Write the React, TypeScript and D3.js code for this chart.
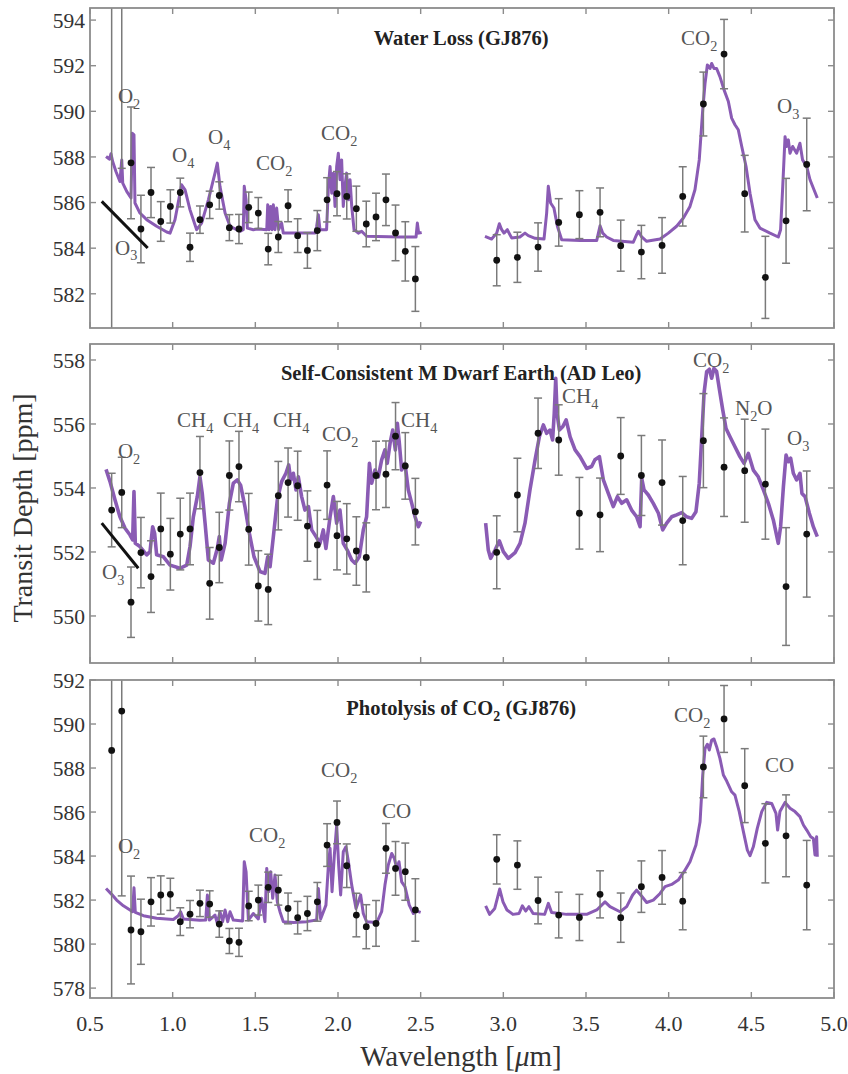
import React from "react";
import * as d3 from "d3";

// ---------- shared wavelengths of the binned data points (µm) ----------
const leftWl = [0.631, 0.692, 0.748, 0.808, 0.869, 0.928, 0.986, 1.046, 1.105, 1.165, 1.224, 1.282, 1.343, 1.401, 1.46, 1.518, 1.578, 1.639, 1.698, 1.756, 1.815, 1.875, 1.934, 1.994, 2.053, 2.111, 2.171, 2.23, 2.29, 2.348, 2.407, 2.468];
const rightWl = [2.96, 3.085, 3.21, 3.335, 3.46, 3.585, 3.71, 3.835, 3.96, 4.085, 4.21, 4.335, 4.46, 4.585, 4.71, 4.835];

// GJ876 uncertainties (shared by panels 1 and 3)
const gjLeftErr = [20, 8.4, 2.45, 1.48, 1.1, 0.87, 0.73, 0.63, 0.62, 0.6, 0.6, 0.6, 0.57, 0.64, 0.67, 0.68, 0.69, 0.68, 0.7, 0.74, 0.78, 0.88, 0.97, 0.97, 0.99, 0.99, 1.0, 1.04, 1.13, 1.22, 1.3, 1.42];
const gjRightErr = [1.12, 1.1, 1.06, 1.04, 1.05, 1.07, 1.12, 1.17, 1.22, 1.3, 1.4, 1.52, 1.68, 1.8, 1.86, 2.03];

// ---------- Panel 1: Water Loss (GJ876) ----------
const waterLeft = [598.0, 595.9, 587.74, 584.84, 586.44, 585.17, 585.83, 586.44, 584.04, 585.25, 585.9, 586.31, 584.9, 584.84, 585.79, 585.54, 583.96, 584.49, 585.86, 584.55, 583.9, 584.77, 586.12, 586.39, 586.27, 585.73, 585.06, 585.37, 586.12, 584.67, 583.86, 582.65];
const waterRight = [583.47, 583.6, 584.05, 585.13, 585.47, 585.57, 584.11, 583.83, 584.12, 586.27, 590.32, 592.51, 586.39, 582.72, 585.2, 587.67];
const waterModelA: [number, number][] = [
  [0.597, 588.02], [0.617, 587.9], [0.627, 588.14], [0.637, 587.8], [0.657, 587.36], [0.681, 586.92], [0.692, 587.87], [0.698, 586.85], [0.722, 586.49], [0.748, 586.2], [0.756, 589.04], [0.766, 588.97], [0.772, 585.98], [0.802, 585.54], [0.843, 585.25], [0.903, 584.96], [0.964, 584.71], [0.984, 584.66], [1.014, 585.25], [1.054, 586.78], [1.075, 586.56], [1.105, 585.68], [1.145, 584.81], [1.175, 585.1], [1.216, 586.12], [1.256, 587.29], [1.27, 587.73], [1.286, 586.71], [1.317, 585.54], [1.347, 584.96], [1.407, 584.74], [1.427, 584.81], [1.433, 586.71], [1.444, 586.12], [1.452, 584.88], [1.488, 584.81], [1.518, 584.84], [1.569, 584.81], [1.575, 585.9], [1.583, 584.81], [1.593, 585.83], [1.601, 584.81], [1.609, 585.9], [1.619, 584.81], [1.629, 585.76], [1.641, 584.81], [1.659, 585.1], [1.669, 584.66], [1.77, 584.66], [1.861, 584.66], [1.871, 584.96], [1.881, 585.47], [1.891, 584.81], [1.931, 584.81], [1.942, 586.71], [1.952, 587.58], [1.962, 586.41], [1.972, 587.29], [1.982, 585.83], [1.992, 587.58], [2.002, 588.16], [2.012, 587.0], [2.022, 587.87], [2.032, 585.83], [2.042, 586.71], [2.052, 587.29], [2.063, 586.12], [2.073, 587.0], [2.083, 585.83], [2.097, 584.81], [2.123, 584.66], [2.143, 584.74], [2.173, 584.52], [2.375, 584.49], [2.472, 584.49], [2.48, 585.1], [2.488, 584.66], [2.506, 584.69]
];
const waterModelB: [number, number][] = [
  [2.889, 584.52], [2.929, 584.4], [2.96, 584.66], [2.976, 585.07], [2.99, 584.81], [3.004, 584.66], [3.024, 584.81], [3.05, 584.45], [3.1, 584.49], [3.131, 584.66], [3.151, 584.55], [3.192, 584.43], [3.246, 584.4], [3.262, 585.54], [3.272, 586.71], [3.286, 585.98], [3.306, 585.76], [3.327, 584.96], [3.353, 584.37], [3.464, 584.34], [3.565, 584.34], [3.575, 584.66], [3.585, 584.98], [3.601, 584.66], [3.625, 584.49], [3.665, 584.34], [3.786, 584.26], [3.806, 584.59], [3.817, 584.74], [3.837, 584.49], [3.867, 584.3], [3.948, 584.4], [3.998, 584.66], [4.048, 584.96], [4.089, 585.32], [4.129, 585.83], [4.159, 586.56], [4.185, 587.87], [4.206, 590.06], [4.22, 591.23], [4.234, 592.03], [4.25, 591.88], [4.26, 592.1], [4.274, 591.88], [4.29, 591.88], [4.31, 591.52], [4.335, 590.94], [4.361, 590.43], [4.381, 589.7], [4.401, 589.41], [4.421, 589.19], [4.442, 588.46], [4.468, 587.58], [4.492, 586.41], [4.522, 585.25], [4.552, 584.88], [4.613, 584.66], [4.663, 584.49], [4.677, 584.81], [4.69, 586.71], [4.704, 588.89], [4.714, 588.46], [4.724, 588.75], [4.734, 588.16], [4.75, 588.46], [4.774, 588.16], [4.794, 588.6], [4.81, 587.87], [4.835, 587.58], [4.855, 587.0], [4.879, 586.56], [4.899, 586.2]
];

// ---------- Panel 2: Self-Consistent M Dwarf Earth (AD Leo) ----------
const adLeoLeft = [553.31, 553.86, 550.43, 551.98, 551.23, 552.72, 551.93, 552.56, 552.72, 554.48, 551.02, 552.14, 554.39, 554.67, 552.71, 550.94, 550.83, 553.76, 554.17, 554.07, 552.81, 552.22, 554.09, 552.51, 552.41, 552.03, 551.83, 554.39, 554.43, 555.62, 554.69, 553.26];
const adLeoLeftErr = [1.15, 1.1, 1.1, 1.1, 1.12, 1.12, 1.12, 1.12, 1.12, 1.13, 1.12, 1.1, 1.08, 1.1, 1.12, 1.1, 1.1, 1.07, 1.08, 1.08, 1.1, 1.08, 1.07, 1.07, 1.1, 1.07, 1.08, 1.07, 1.04, 1.05, 1.04, 1.04];
const adLeoRight = [551.99, 553.78, 555.71, 555.5, 553.21, 553.16, 555.0, 554.39, 554.17, 552.98, 555.48, 554.65, 554.54, 554.12, 550.92, 552.56];
const adLeoRightErr = [1.14, 1.15, 1.1, 1.1, 1.12, 1.15, 1.2, 1.25, 1.33, 1.38, 1.47, 1.54, 1.61, 1.72, 1.84, 1.97];
const adLeoModelA: [number, number][] = [
  [0.597, 554.58], [0.621, 554.2], [0.651, 553.63], [0.681, 553.1], [0.712, 552.74], [0.742, 552.53], [0.758, 552.38], [0.766, 553.89], [0.774, 552.27], [0.802, 552.17], [0.843, 551.91], [0.863, 552.01], [0.879, 552.79], [0.891, 552.58], [0.903, 551.91], [0.944, 551.85], [0.984, 551.59], [1.044, 551.49], [1.085, 551.59], [1.105, 552.17], [1.125, 553.1], [1.149, 553.73], [1.165, 554.35], [1.179, 553.83], [1.196, 552.9], [1.216, 551.75], [1.246, 551.65], [1.27, 552.11], [1.282, 552.48], [1.294, 551.75], [1.317, 552.27], [1.343, 553.52], [1.367, 554.15], [1.391, 554.25], [1.411, 554.09], [1.437, 553.42], [1.464, 552.58], [1.492, 551.85], [1.528, 551.39], [1.558, 551.33], [1.575, 551.85], [1.589, 551.54], [1.609, 552.48], [1.633, 553.63], [1.659, 554.2], [1.685, 554.46], [1.702, 554.72], [1.714, 554.25], [1.73, 554.46], [1.746, 553.94], [1.76, 554.35], [1.78, 553.73], [1.8, 553.31], [1.821, 553.42], [1.841, 552.69], [1.867, 552.48], [1.891, 552.27], [1.911, 552.69], [1.927, 552.11], [1.952, 553.1], [1.972, 553.73], [1.992, 552.9], [2.012, 553.31], [2.032, 552.27], [2.056, 552.06], [2.083, 551.75], [2.103, 551.65], [2.129, 551.85], [2.153, 552.69], [2.173, 553.1], [2.19, 554.77], [2.204, 554.15], [2.224, 554.56], [2.244, 554.35], [2.264, 554.88], [2.284, 555.19], [2.298, 554.77], [2.315, 555.4], [2.331, 555.81], [2.347, 555.19], [2.359, 556.02], [2.371, 555.4], [2.385, 554.56], [2.405, 554.77], [2.425, 553.94], [2.446, 553.52], [2.466, 553.1], [2.486, 552.79], [2.5, 552.95]
];
const adLeoModelB: [number, number][] = [
  [2.893, 552.9], [2.909, 552.06], [2.923, 551.8], [2.95, 552.06], [2.976, 552.35], [3.0, 552.01], [3.03, 551.8], [3.071, 551.98], [3.101, 552.27], [3.131, 552.9], [3.161, 553.94], [3.192, 554.88], [3.218, 555.6], [3.242, 555.97], [3.262, 555.71], [3.282, 555.81], [3.298, 555.5], [3.308, 556.33], [3.317, 557.43], [3.325, 556.33], [3.339, 555.81], [3.36, 555.92], [3.38, 556.13], [3.404, 555.6], [3.434, 555.19], [3.464, 554.98], [3.504, 554.61], [3.534, 554.67], [3.554, 554.88], [3.581, 554.98], [3.605, 554.25], [3.635, 553.83], [3.665, 553.42], [3.69, 553.73], [3.716, 553.52], [3.746, 553.63], [3.776, 553.31], [3.806, 553.1], [3.827, 552.79], [3.837, 554.3], [3.851, 553.94], [3.877, 553.78], [3.907, 553.52], [3.938, 553.21], [3.964, 552.69], [3.988, 552.9], [4.018, 553.1], [4.048, 553.16], [4.079, 553.23], [4.109, 553.1], [4.139, 553.05], [4.165, 553.26], [4.185, 554.15], [4.2, 555.6], [4.214, 556.96], [4.23, 557.64], [4.246, 557.71], [4.26, 557.43], [4.274, 557.74], [4.29, 557.64], [4.306, 557.11], [4.327, 556.44], [4.347, 555.86], [4.371, 555.6], [4.401, 555.29], [4.431, 554.98], [4.456, 554.77], [4.482, 555.08], [4.512, 554.56], [4.542, 554.35], [4.573, 553.94], [4.603, 553.52], [4.633, 553.0], [4.663, 552.27], [4.677, 552.79], [4.694, 554.04], [4.71, 555.03], [4.724, 554.82], [4.738, 554.93], [4.754, 554.46], [4.774, 554.25], [4.794, 554.46], [4.806, 553.83], [4.825, 553.73], [4.851, 553.21], [4.875, 552.79], [4.899, 552.48]
];

// ---------- Panel 3: Photolysis of CO2 (GJ876) ----------
const photoLeft = [588.8, 590.59, 580.64, 580.56, 581.92, 582.23, 582.26, 581.02, 581.36, 581.85, 581.82, 580.91, 580.14, 580.08, 581.73, 582.0, 582.58, 582.45, 581.62, 581.2, 581.39, 581.92, 584.5, 585.53, 583.56, 581.32, 580.79, 580.94, 584.35, 583.44, 583.29, 581.55];
const photoRight = [583.85, 583.59, 581.98, 581.32, 581.21, 582.26, 581.2, 582.61, 583.03, 581.95, 588.05, 590.23, 587.2, 584.58, 584.92, 582.68];
const photoModelA: [number, number][] = [
  [0.597, 582.53], [0.631, 582.26], [0.661, 582.0], [0.702, 581.74], [0.742, 581.55], [0.758, 581.47], [0.766, 582.56], [0.774, 581.44], [0.823, 581.29], [0.903, 581.17], [1.004, 581.12], [1.034, 581.29], [1.048, 581.47], [1.065, 581.14], [1.165, 581.08], [1.2, 581.09], [1.21, 582.23], [1.222, 581.09], [1.256, 581.32], [1.27, 580.94], [1.286, 581.47], [1.302, 581.02], [1.317, 581.55], [1.333, 581.02], [1.347, 581.47], [1.367, 581.09], [1.423, 581.05], [1.433, 583.74], [1.444, 583.29], [1.458, 581.09], [1.488, 581.39], [1.518, 581.14], [1.538, 582.08], [1.558, 581.02], [1.569, 583.44], [1.581, 582.38], [1.593, 583.29], [1.605, 582.08], [1.619, 583.14], [1.633, 581.92], [1.649, 581.47], [1.669, 581.02], [1.73, 580.98], [1.81, 581.02], [1.871, 581.09], [1.881, 582.53], [1.895, 581.14], [1.927, 581.77], [1.942, 583.59], [1.952, 584.35], [1.964, 582.38], [1.978, 584.05], [1.992, 585.41], [2.004, 583.59], [2.016, 582.23], [2.032, 584.2], [2.048, 584.42], [2.063, 583.74], [2.083, 582.68], [2.109, 581.62], [2.137, 582.23], [2.153, 581.39], [2.173, 581.02], [2.234, 580.98], [2.264, 581.47], [2.284, 582.68], [2.304, 583.59], [2.325, 584.12], [2.341, 583.89], [2.355, 583.44], [2.369, 583.74], [2.385, 582.83], [2.405, 582.61], [2.431, 581.77], [2.456, 581.39], [2.476, 581.5], [2.5, 581.44]
];
const photoModelB: [number, number][] = [
  [2.893, 581.74], [2.917, 581.35], [2.948, 581.62], [2.978, 582.5], [2.998, 581.92], [3.022, 581.55], [3.058, 581.35], [3.095, 581.39], [3.115, 581.74], [3.135, 581.5], [3.155, 581.7], [3.18, 581.39], [3.25, 581.35], [3.272, 581.85], [3.292, 581.44], [3.383, 581.35], [3.504, 581.35], [3.565, 581.55], [3.615, 581.92], [3.645, 581.7], [3.706, 581.47], [3.746, 581.7], [3.782, 582.23], [3.806, 582.45], [3.831, 582.23], [3.867, 581.89], [3.907, 582.0], [3.948, 582.3], [3.978, 582.61], [4.018, 582.71], [4.058, 582.91], [4.093, 583.29], [4.129, 583.74], [4.165, 584.5], [4.19, 585.56], [4.206, 587.68], [4.22, 588.89], [4.234, 589.08], [4.246, 588.82], [4.26, 589.27], [4.274, 589.32], [4.29, 588.97], [4.31, 588.44], [4.331, 587.68], [4.351, 587.41], [4.381, 586.92], [4.401, 586.77], [4.427, 586.02], [4.452, 585.11], [4.476, 584.27], [4.492, 584.02], [4.512, 584.42], [4.536, 585.26], [4.563, 586.02], [4.593, 586.44], [4.623, 586.39], [4.649, 585.94], [4.659, 585.18], [4.673, 586.02], [4.704, 586.44], [4.734, 586.17], [4.764, 586.02], [4.794, 585.79], [4.815, 585.41], [4.835, 585.18], [4.859, 584.88], [4.875, 584.8], [4.885, 584.05], [4.895, 584.88], [4.899, 583.97]
];

// ---------- axis ticks ----------
const xTicks = [0.5, 1.0, 1.5, 2.0, 2.5, 3.0, 3.5, 4.0, 4.5, 5.0];
const yTicks1 = [582, 584, 586, 588, 590, 592, 594];
const yTicks2 = [550, 552, 554, 556, 558];
const yTicks3 = [578, 580, 582, 584, 586, 588, 590, 592];

// ---------- annotations [label, wavelength, depth] ----------
const labels1: [string, number, number][] = [
  ["O_2", 0.669, 590.37], ["O_4", 0.996, 587.79], ["O_4", 1.214, 588.57], ["CO_2", 1.504, 587.44], ["CO_2", 1.897, 588.75], ["CO_2", 4.075, 592.91], ["O_3", 4.655, 589.93], ["O_3", 0.651, 583.72]
];
const labels2: [string, number, number][] = [
  ["O_2", 0.669, 554.94], ["CH_4", 1.026, 555.91], ["CH_4", 1.304, 555.91], ["CH_4", 1.607, 555.91], ["CO_2", 1.903, 555.47], ["CH_4", 2.381, 555.91], ["CH_4", 3.355, 556.66], ["CO_2", 4.147, 557.78], ["N_2O", 4.401, 556.28], ["O_3", 4.716, 555.34], ["O_3", 0.573, 551.16]
];
const labels3: [string, number, number][] = [
  ["O_2", 0.669, 584.14], ["CO_2", 1.462, 584.64], ["CO_2", 1.897, 587.59], ["CO", 2.266, 585.73], ["CO_2", 4.032, 590.09], ["CO", 4.583, 587.82]
];
const o3Line1: [number, number][] = [[0.571, 586.05], [0.849, 584.01]];
const o3Line2: [number, number][] = [[0.571, 552.9], [0.792, 551.49]];

const X0 = 90, X1 = 834;
const x = d3.scaleLinear().domain([0.5, 5.0]).range([X0, X1]);
const PURPLE = "#8a5bb4";
const SERIF = "Liberation Serif, Times New Roman, Times, Tinos, Noto Serif, DejaVu Serif, FreeSerif, serif";

function Chem({ px, py, s, size, fill, weight, anchor }: any) {
  const parts = s.split(/(_\d)/).filter(Boolean);
  let shifted = false;
  const sh = size * 0.28;
  return (
    <text x={px} y={py} textAnchor={anchor} style={{ fontFamily: SERIF, fontSize: size, fill, fontWeight: weight || "normal" }}>
      {parts.map((p: string, i: number) => {
        if (p.startsWith("_")) {
          shifted = true;
          return <tspan key={i} dy={sh} style={{ fontSize: size * 0.68 }}>{p.slice(1)}</tspan>;
        }
        const dy = shifted ? -sh : 0;
        shifted = false;
        return <tspan key={i} dy={dy}>{p}</tspan>;
      })}
    </text>
  );
}

function Panel({ id, top, bottom, domain, yTicks, models, left, leftErr, right, rightErr, labels, title, o3, lw }: any) {
  const y = d3.scaleLinear().domain(domain).range([bottom, top]);
  const line = d3.line<[number, number]>().x((d) => x(d[0])).y((d) => y(d[1]));
  const pts: { w: number; v: number; e: number }[] = [];
  leftWl.forEach((w, i) => pts.push({ w, v: left[i], e: leftErr[i] }));
  rightWl.forEach((w, i) => pts.push({ w, v: right[i], e: rightErr[i] }));
  const clip = `clip-${id}`;
  return (
    <g>
      <defs>
        <clipPath id={clip}>
          <rect x={X0} y={top} width={X1 - X0} height={bottom - top} />
        </clipPath>
      </defs>
      <rect x={X0} y={top} width={X1 - X0} height={bottom - top} fill="#fff" />
      <g clipPath={`url(#${clip})`}>
        {models.map((m: [number, number][], i: number) => (
          <path key={i} d={line(m) || ""} fill="none" stroke={PURPLE} strokeWidth={lw} strokeLinejoin="round" />
        ))}
        {pts.map((p, i) => {
          const y1 = y(p.v + p.e), y2 = y(p.v - p.e), cx = x(p.w);
          return (
            <g key={i}>
              <line x1={cx} x2={cx} y1={y1} y2={y2} stroke="#7a7a7a" strokeWidth={1.5} />
              <line x1={cx - 4} x2={cx + 4} y1={y1} y2={y1} stroke="#7a7a7a" strokeWidth={1.5} />
              <line x1={cx - 4} x2={cx + 4} y1={y2} y2={y2} stroke="#7a7a7a" strokeWidth={1.5} />
              <circle cx={cx} cy={y(p.v)} r={3.4} fill="#111" />
            </g>
          );
        })}
        {o3 && <path d={line(o3) || ""} stroke="#111" strokeWidth={3} fill="none" />}
      </g>
      {labels.map((l: [string, number, number], i: number) => (
        <Chem key={i} px={x(l[1])} py={y(l[2])} s={l[0]} size={21} fill="#555" />
      ))}
      <Chem px={x(2.745)} py={title[1]} s={title[0]} size={20.5} fill="#222" weight="bold" anchor="middle" />
      {/* frame and ticks */}
      <rect x={X0} y={top} width={X1 - X0} height={bottom - top} fill="none" stroke="#8c8c8c" strokeWidth={1.8} />
      {xTicks.map((t) => (
        <g key={t}>
          <line x1={x(t)} x2={x(t)} y1={top} y2={top + 6} stroke="#8c8c8c" strokeWidth={1.4} />
          <line x1={x(t)} x2={x(t)} y1={bottom} y2={bottom - 6} stroke="#8c8c8c" strokeWidth={1.4} />
        </g>
      ))}
      {yTicks.map((t: number) => (
        <g key={t}>
          <line x1={X0} x2={X0 + 6} y1={y(t)} y2={y(t)} stroke="#8c8c8c" strokeWidth={1.4} />
          <line x1={X1} x2={X1 - 6} y1={y(t)} y2={y(t)} stroke="#8c8c8c" strokeWidth={1.4} />
          <text x={85} y={y(t)} dy="0.36em" textAnchor="end" style={{ fontFamily: SERIF, fontSize: 21.5, fill: "#333" }}>{t}</text>
        </g>
      ))}
    </g>
  );
}

export default function App() {
  return (
    <svg width={848} height={1074} style={{ position: "absolute", left: 0, top: 0, background: "#fff", fontFamily: SERIF }}>
      <rect x={0} y={0} width={848} height={1074} fill="#fff" />
      <Panel id="p1" top={8} bottom={328} domain={[580.5, 594.53]} yTicks={yTicks1} models={[waterModelA, waterModelB]}
        left={waterLeft} leftErr={gjLeftErr} right={waterRight} rightErr={gjRightErr} labels={labels1}
        title={["Water Loss (GJ876)", 45]} o3={o3Line1} lw={3} />
      <Panel id="p2" top={344} bottom={663} domain={[548.53, 558.5]} yTicks={yTicks2} models={[adLeoModelA, adLeoModelB]}
        left={adLeoLeft} leftErr={adLeoLeftErr} right={adLeoRight} rightErr={adLeoRightErr} labels={labels2}
        title={["Self-Consistent M Dwarf Earth (AD Leo)", 380]} o3={o3Line2} lw={3.6} />
      <Panel id="p3" top={680} bottom={998} domain={[577.55, 592]} yTicks={yTicks3} models={[photoModelA, photoModelB]}
        left={photoLeft} leftErr={gjLeftErr} right={photoRight} rightErr={gjRightErr} labels={labels3}
        title={["Photolysis of CO_2 (GJ876)", 715]} o3={null} lw={3} />
      {xTicks.map((t) => (
        <text key={t} x={x(t)} y={1031} textAnchor="middle" style={{ fontFamily: SERIF, fontSize: 22, fill: "#333" }}>{t.toFixed(1)}</text>
      ))}
      <text x={461} y={1066} textAnchor="middle" style={{ fontFamily: SERIF, fontSize: 29, fill: "#333" }}>
        Wavelength [<tspan style={{ fontStyle: "italic" }}>μ</tspan>m]
      </text>
      <text transform="translate(32,508) rotate(-90)" textAnchor="middle" style={{ fontFamily: SERIF, fontSize: 28, fill: "#333" }}>
        Transit Depth [ppm]
      </text>
    </svg>
  );
}
